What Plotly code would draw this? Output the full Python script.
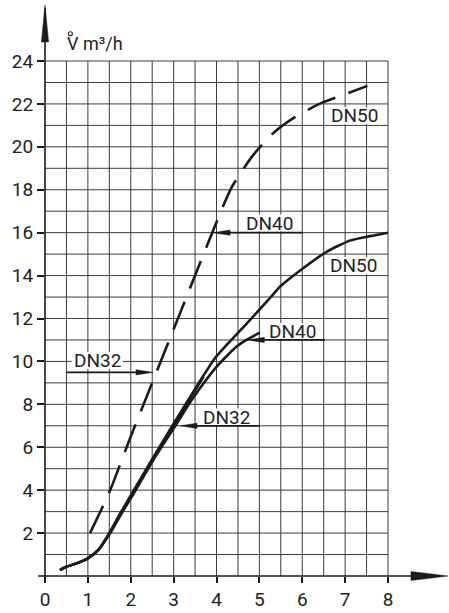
import plotly.graph_objects as go

# ---------------- data ----------------
x_tick_vals = [0, 1, 2, 3, 4, 5, 6, 7, 8]
y_tick_vals = [2, 4, 6, 8, 10, 12, 14, 16, 18, 20, 22, 24]

# solid curves (lower family)
dn50_solid_x = [0.35, 0.5, 0.75, 1.0, 1.25, 1.5, 1.75, 2.0, 2.5, 3.0, 3.34, 3.65, 3.96, 4.27, 4.78, 5.24, 5.48, 6.02, 6.57, 7.11, 7.58, 8.0]
dn50_solid_y = [0.28, 0.43, 0.6, 0.82, 1.23, 2.0, 2.9, 3.75, 5.45, 7.1, 8.2, 9.2, 10.14, 10.84, 11.93, 12.94, 13.48, 14.34, 15.11, 15.63, 15.84, 16.0]

dn40_solid_x = [0.35, 0.5, 0.75, 1.0, 1.25, 1.52, 1.78, 2.04, 2.54, 3.04, 3.42, 4.0, 4.47, 4.7, 5.01]
dn40_solid_y = [0.28, 0.43, 0.6, 0.82, 1.23, 2.0, 2.9, 3.75, 5.45, 7.0, 8.2, 9.75, 10.69, 11.0, 11.34]

dn32_solid_x = [0.35, 0.5, 0.75, 1.0, 1.25, 1.51, 1.77, 2.02, 2.52, 3.02, 3.35, 3.7]
dn32_solid_y = [0.28, 0.43, 0.6, 0.82, 1.23, 2.0, 2.9, 3.75, 5.45, 7.05, 8.15, 9.3]

# dashed curve (upper family)
dashed_x = [1.05, 1.5, 2.0, 2.5, 3.0, 3.5, 3.9, 4.35, 4.85, 5.3, 5.8, 6.4, 7.0, 7.52]
dashed_y = [2.0, 3.9, 6.5, 9.0, 11.5, 14.0, 16.0, 18.1, 19.6, 20.6, 21.35, 22.0, 22.45, 22.84]

# curve labels
label_text = ["DN50", "DN40", "DN50", "DN40", "DN32", "DN32"]
label_x = [7.23, 5.24, 7.2, 5.77, 1.22, 4.23]
label_y = [21.45, 16.45, 14.46, 11.38, 10.04, 7.41]

# label arrows: (y, tail x, tip x)
arrow_y = [9.49, 16.0, 11.0, 7.0]
arrow_tail_x = [0.5, 6.02, 6.53, 5.01]
arrow_tip_x = [2.52, 3.92, 4.72, 3.15]

axis_title = "V m³/h"

# ---------------- geometry ----------------
W, H = 449, 613
ML, MB = 45, 37
PW, PH = W - ML, H - MB
px_per_x = 42.875
px_per_y = 21.458
x_max = PW / px_per_x
y_max = PH / px_per_y

INK = "#1b1b1b"
GRID = "#3d3d3d"
FONT = "Roboto"

fig = go.Figure()

line_w = 2.6
fig.add_trace(go.Scatter(x=dn32_solid_x, y=dn32_solid_y, mode="lines",
                         line=dict(color=INK, width=line_w, shape="spline", smoothing=0.6),
                         hoverinfo="skip", showlegend=False))
fig.add_trace(go.Scatter(x=dn40_solid_x, y=dn40_solid_y, mode="lines",
                         line=dict(color=INK, width=line_w, shape="spline", smoothing=0.6),
                         hoverinfo="skip", showlegend=False))
fig.add_trace(go.Scatter(x=dn50_solid_x, y=dn50_solid_y, mode="lines",
                         line=dict(color=INK, width=line_w, shape="spline", smoothing=0.6),
                         hoverinfo="skip", showlegend=False))
fig.add_trace(go.Scatter(x=dashed_x, y=dashed_y, mode="lines",
                         line=dict(color=INK, width=line_w, shape="spline", smoothing=0.6,
                                   dash="30px,14px"),
                         hoverinfo="skip", showlegend=False))

shapes = []
# grid (0..8 by 0.5 vertical, 1..24 horizontal)
gx = [i * 0.5 for i in range(0, 17)]
gy = list(range(1, 25))
for xv in gx[1:]:
    shapes.append(dict(type="line", xref="x", yref="y", x0=xv, x1=xv, y0=0, y1=24,
                       line=dict(color=GRID, width=1), layer="below"))
for yv in gy:
    shapes.append(dict(type="line", xref="x", yref="y", x0=0, x1=8, y0=yv, y1=yv,
                       line=dict(color=GRID, width=1), layer="below"))

# white boxes behind labels
hw = 25.5 / px_per_x
hh = 8.5 / px_per_y
for lx, ly in zip(label_x, label_y):
    shapes.append(dict(type="rect", xref="x", yref="y", x0=lx - hw, x1=lx + hw,
                       y0=ly - hh, y1=ly + hh, fillcolor="white",
                       line=dict(width=0), layer="below"))

# label arrows
head_len = 17 / px_per_x
head_half = 2.6 / px_per_y
for ay, tx, hx in zip(arrow_y, arrow_tail_x, arrow_tip_x):
    d = 1 if tx < hx else -1
    base = hx - d * head_len
    shapes.append(dict(type="line", xref="x", yref="y", x0=tx, x1=base, y0=ay, y1=ay,
                       line=dict(color=INK, width=1.7), layer="above"))
    shapes.append(dict(type="path", xref="x", yref="y",
                       path=f"M {hx},{ay} L {base},{ay + head_half} L {base},{ay - head_half} Z",
                       fillcolor=INK, line=dict(color=INK, width=0.5), layer="above"))

# axes lines and arrowheads (paper coordinates)
shapes.append(dict(type="line", xref="paper", yref="paper",
                   x0=0, x1=0, y0=-6 / PH, y1=(PH - 8) / PH,
                   line=dict(color=INK, width=1.6), layer="above"))
shapes.append(dict(type="line", xref="paper", yref="paper",
                   x0=-7 / PW, x1=(412 - ML) / PW, y0=0, y1=0,
                   line=dict(color=INK, width=1.6), layer="above"))
shapes.append(dict(type="path", xref="paper", yref="paper",
                   path=(f"M 0,{(PH - 5) / PH} L {-3.6 / PW},{(PH - 42) / PH} "
                         f"L {3.6 / PW},{(PH - 42) / PH} Z"),
                   fillcolor=INK, line=dict(color=INK, width=0.5), layer="above"))
shapes.append(dict(type="path", xref="paper", yref="paper",
                   path=(f"M {(448 - ML) / PW},0 L {(411 - ML) / PW},{4.5 / PH} "
                         f"L {(411 - ML) / PW},{-4.5 / PH} Z"),
                   fillcolor=INK, line=dict(color=INK, width=0.5), layer="above"))
# ring over the V of the axis title
rc_x, rc_y, rr = (70.4 - ML) / PW, (PH - 33.8) / PH, 2.0
shapes.append(dict(type="circle", xref="paper", yref="paper",
                   x0=rc_x - rr / PW, x1=rc_x + rr / PW, y0=rc_y - rr / PH, y1=rc_y + rr / PH,
                   line=dict(color="#222", width=1.1), layer="above"))

annotations = []
for t, lx, ly in zip(label_text, label_x, label_y):
    annotations.append(dict(text=t, x=lx, y=ly, xref="x", yref="y", showarrow=False,
                            xanchor="center", yanchor="middle",
                            font=dict(family=FONT, size=19, color="#222")))
annotations.append(dict(text=axis_title, x=20 / px_per_x, y=(PH - 43) / px_per_y,
                        xref="x", yref="y", showarrow=False, xanchor="left", yanchor="middle",
                        font=dict(family=FONT, size=18, color="#222")))

fig.update_layout(
    width=W, height=H,
    margin=dict(l=ML, r=0, t=0, b=MB),
    paper_bgcolor="white", plot_bgcolor="white",
    shapes=shapes, annotations=annotations,
    xaxis=dict(range=[0, x_max], showgrid=False, zeroline=False, showline=False,
               tickmode="array", tickvals=x_tick_vals, ticktext=[str(v) for v in x_tick_vals],
               ticks="outside", ticklen=6, tickwidth=1.6, tickcolor=INK,
               tickfont=dict(family=FONT, size=19, color="#222"), fixedrange=True),
    yaxis=dict(range=[0, y_max], showgrid=False, zeroline=False, showline=False,
               tickmode="array", tickvals=y_tick_vals, ticktext=[str(v) for v in y_tick_vals],
               ticks="outside", ticklen=7, tickwidth=1.6, tickcolor=INK,
               tickfont=dict(family=FONT, size=19, color="#222"), fixedrange=True),
    showlegend=False,
)

fig.write_html("out.html", config={"displayModeBar": False},
               post_script="document.body.style.margin='0px';document.body.style.overflow='hidden';")
